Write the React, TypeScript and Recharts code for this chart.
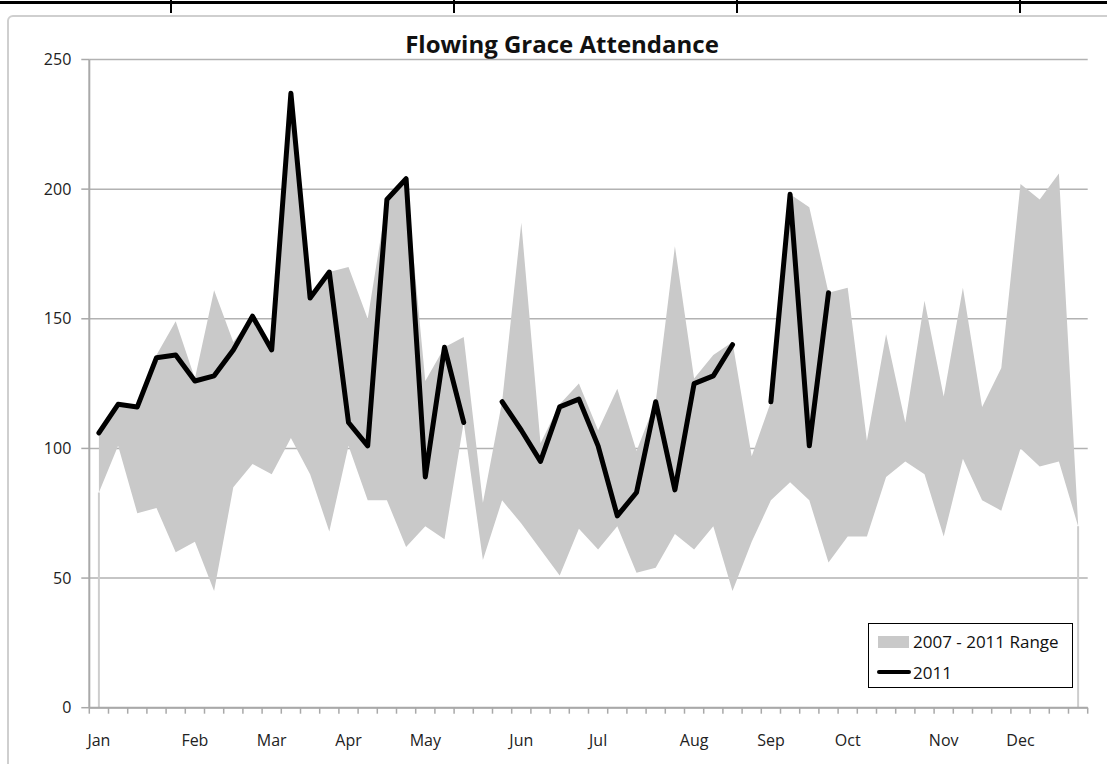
import {
  ComposedChart,
  Area,
  Line,
  XAxis,
  YAxis,
  CartesianGrid,
  ReferenceLine,
} from 'recharts';

// one label per week, month name on the first week of each month
const WEEK_LABELS = [
  'Jan', '', '', '', '', 'Feb', '', '', '', 'Mar', '', '', '', 'Apr', '', '', '', 'May', '', '', '', '',
  'Jun', '', '', '', 'Jul', '', '', '', '', 'Aug', '', '', '', 'Sep', '', '', '', 'Oct', '', '', '', '',
  'Nov', '', '', '', 'Dec', '', '', '',
];

// 2007 - 2011 weekly minimum / maximum
const RANGE_LOW = [
  83, 101, 75, 77, 60, 64, 45, 85, 94, 90, 104, 90, 68, 101, 80, 80, 62, 70, 65, 110, 57, 80, 71, 61, 51, 69,
  61, 70, 52, 54, 67, 61, 70, 45, 64, 80, 87, 80, 56, 66, 66, 89, 95, 90, 66, 96, 80, 76, 100, 93, 95, 70,
];
const RANGE_HIGH = [
  106, 117, 116, 136, 149, 127, 161, 141, 151, 138, 237, 158, 168, 170, 150, 196, 204, 126, 139, 143, 79, 118,
  187, 102, 117, 125, 107, 123, 99, 118, 178, 127, 136, 141, 97, 118, 198, 193, 160, 162, 103, 144, 110, 157,
  120, 162, 116, 131, 202, 196, 206, 71,
];

// 2011 attendance (null = no service recorded)
const Y2011 = [
  106, 117, 116, 135, 136, 126, 128, 138, 151, 138, 237, 158, 168, 110, 101, 196, 204, 89, 139, 110, null, 118,
  107, 95, 116, 119, 101, 74, 83, 118, 84, 125, 128, 140, null, 118, 198, 101, 160, null, null, null, null,
  null, null, null, null, null, null, null, null, null,
];

const Y_TICKS = [0, 50, 100, 150, 200, 250];

const W = 1107;
const H = 764;
const Y_AXIS_W = 89.3;
const RIGHT = 19.3;
const BAND = (W - Y_AXIS_W - RIGHT) / WEEK_LABELS.length;
const FONT = '"Open Sans", "Noto Sans", sans-serif';
const GRAY = '#c9c9c9';
const AXIS = '#a9a9a9';

const data = WEEK_LABELS.map((label, i) => ({
  x: i + 0.5,
  label,
  range: [RANGE_LOW[i], RANGE_HIGH[i]],
  y2011: Y2011[i],
}));

const xTicks = Array.from({ length: WEEK_LABELS.length + 1 }, (_, i) => i);

function MonthTick(props: any) {
  const { x, y, payload } = props;
  const label = WEEK_LABELS[payload.value] || '';
  if (!label) return null;
  return (
    <text
      x={x + BAND / 2}
      y={y + 30}
      textAnchor="middle"
      fill="#222"
      fontSize={16}
      fontFamily={FONT}
    >
      {label}
    </text>
  );
}

export default function App() {
  const last = data.length - 1;
  return (
    <div
      style={{
        position: 'absolute',
        left: 0,
        top: 0,
        width: W,
        height: H,
        overflow: 'hidden',
        background: '#fff',
      }}
    >
      {/* spreadsheet cell borders above the chart */}
      <div style={{ position: 'absolute', left: 0, top: 1, width: W, height: 3, background: '#000' }} />
      {[170, 453, 736, 1019].map((x) => (
        <div key={x} style={{ position: 'absolute', left: x, top: 0, width: 1.5, height: 13, background: '#000' }} />
      ))}
      {/* chart frame */}
      <div
        style={{
          position: 'absolute',
          left: 7,
          top: 15,
          width: W + 20,
          height: H + 20,
          border: '2px solid #cfcfcf',
          borderRadius: 6,
        }}
      />
      <div
        style={{
          position: 'absolute',
          left: 0,
          width: 1124,
          top: 27,
          textAlign: 'center',
          fontFamily: FONT,
          fontWeight: 700,
          fontSize: 24,
          color: '#111',
        }}
      >
        Flowing Grace Attendance
      </div>

      <div style={{ position: 'absolute', left: 0, top: 0 }}>
        <ComposedChart
          width={W}
          height={H}
          data={data}
          margin={{ top: 59.5, right: RIGHT, bottom: 26.3, left: 0 }}
        >
          <CartesianGrid vertical={false} stroke="#b2b2b2" strokeWidth={1.5} />
          <XAxis
            dataKey="x"
            type="number"
            domain={[0, WEEK_LABELS.length]}
            ticks={xTicks}
            interval={0}
            height={30}
            axisLine={{ stroke: AXIS, strokeWidth: 2 }}
            tickLine={{ stroke: AXIS, strokeWidth: 1.5 }}
            tickSize={6}
            tick={<MonthTick />}
          />
          <YAxis
            type="number"
            domain={[0, 250]}
            ticks={Y_TICKS}
            width={Y_AXIS_W}
            axisLine={{ stroke: AXIS, strokeWidth: 2 }}
            tickLine={{ stroke: AXIS, strokeWidth: 1.5 }}
            tickSize={8}
            tickMargin={10}
            tick={{ fill: '#222', fontSize: 16, fontFamily: FONT }}
          />
          <Area
            type="linear"
            dataKey="range"
            fill={GRAY}
            fillOpacity={1}
            stroke="none"
            isAnimationActive={false}
          />
          <ReferenceLine
            segment={[
              { x: data[0].x, y: 0 },
              { x: data[0].x, y: RANGE_LOW[0] },
            ]}
            stroke="#cdcdcd"
            strokeWidth={2}
          />
          <ReferenceLine
            segment={[
              { x: data[last].x, y: 0 },
              { x: data[last].x, y: RANGE_LOW[last] },
            ]}
            stroke="#cdcdcd"
            strokeWidth={2}
          />
          <Line
            type="linear"
            dataKey="y2011"
            stroke="#000"
            strokeWidth={5}
            strokeLinejoin="round"
            strokeLinecap="round"
            dot={false}
            connectNulls={false}
            isAnimationActive={false}
          />
        </ComposedChart>
      </div>

      {/* legend */}
      <div
        style={{
          position: 'absolute',
          left: 868,
          top: 623,
          width: 203,
          height: 63,
          border: '1.5px solid #000',
          background: '#fff',
          fontFamily: FONT,
          fontSize: 17,
          color: '#111',
        }}
      >
        <div style={{ position: 'absolute', left: 9, top: 12, width: 31, height: 12, background: GRAY }} />
        <div style={{ position: 'absolute', left: 44, top: 6, lineHeight: '23px', whiteSpace: 'nowrap' }}>
          2007 - 2011 Range
        </div>
        <div style={{ position: 'absolute', left: 8, top: 46, width: 34, height: 4, background: '#000', borderRadius: 2 }} />
        <div style={{ position: 'absolute', left: 44, top: 37, lineHeight: '23px', whiteSpace: 'nowrap' }}>2011</div>
      </div>
    </div>
  );
}
